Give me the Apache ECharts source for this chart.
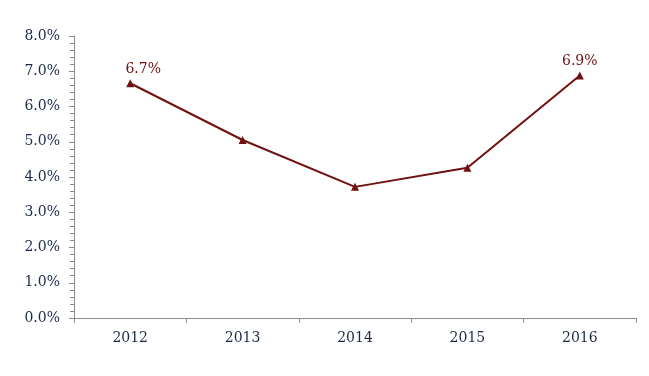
<!DOCTYPE html>
<html>
<head>
<meta charset="utf-8">
<script src="https://cdn.jsdelivr.net/npm/echarts@6/dist/echarts.min.js"></script>
<style>html,body{margin:0;padding:0;background:#fff}#c{width:649px;height:376px}</style>
</head>
<body>
<div id="c"></div>
<script>
var years = ['2012', '2013', '2014', '2015', '2016'];
var growth = [6.66, 5.05, 3.72, 4.26, 6.88];
var labelled = [true, false, false, false, true];

var chart = echarts.init(document.getElementById('c'), null, {renderer: 'canvas'});
var font = '"DejaVu Serif", "Liberation Serif", serif';
var textColor = '#1c2a4a';
var lineColor = '#701010';
chart.setOption({
  animation: false,
  grid: {left: 74, right: 13, top: 36, bottom: 58},
  xAxis: {
    type: 'category',
    data: years,
    boundaryGap: true,
    axisLine: {lineStyle: {color: '#8c8c8c', width: 1}},
    axisTick: {show: true, length: 5, alignWithLabel: false, lineStyle: {color: '#8c8c8c'}},
    axisLabel: {color: textColor, fontFamily: font, fontSize: 14, margin: 13}
  },
  yAxis: {
    type: 'value',
    min: 0, max: 8, interval: 1,
    axisLine: {show: true, lineStyle: {color: '#8c8c8c', width: 1}},
    axisTick: {show: true, length: 5, lineStyle: {color: '#8c8c8c'}},
    minorTick: {show: true, splitNumber: 5, length: 4, lineStyle: {color: '#8c8c8c'}},
    splitLine: {show: false},
    axisLabel: {color: textColor, fontFamily: font, fontSize: 14, margin: 14,
      formatter: function (v) { return v.toFixed(1) + '%'; }}
  },
  series: [{
    type: 'line',
    data: growth.map(function (v, i) {
      var lbl = {show: labelled[i]};
      if (i === 0) { lbl.offset = [13, 0]; }
      return {value: v, label: lbl};
    }),
    symbol: 'triangle',
    symbolSize: 8,
    lineStyle: {color: lineColor, width: 2},
    itemStyle: {color: lineColor},
    label: {
      position: 'top', distance: 3, color: lineColor, fontFamily: font, fontSize: 14,
      formatter: function (p) { return p.value.toFixed(1) + '%'; }
    }
  }]
});
</script>
</body>
</html>
